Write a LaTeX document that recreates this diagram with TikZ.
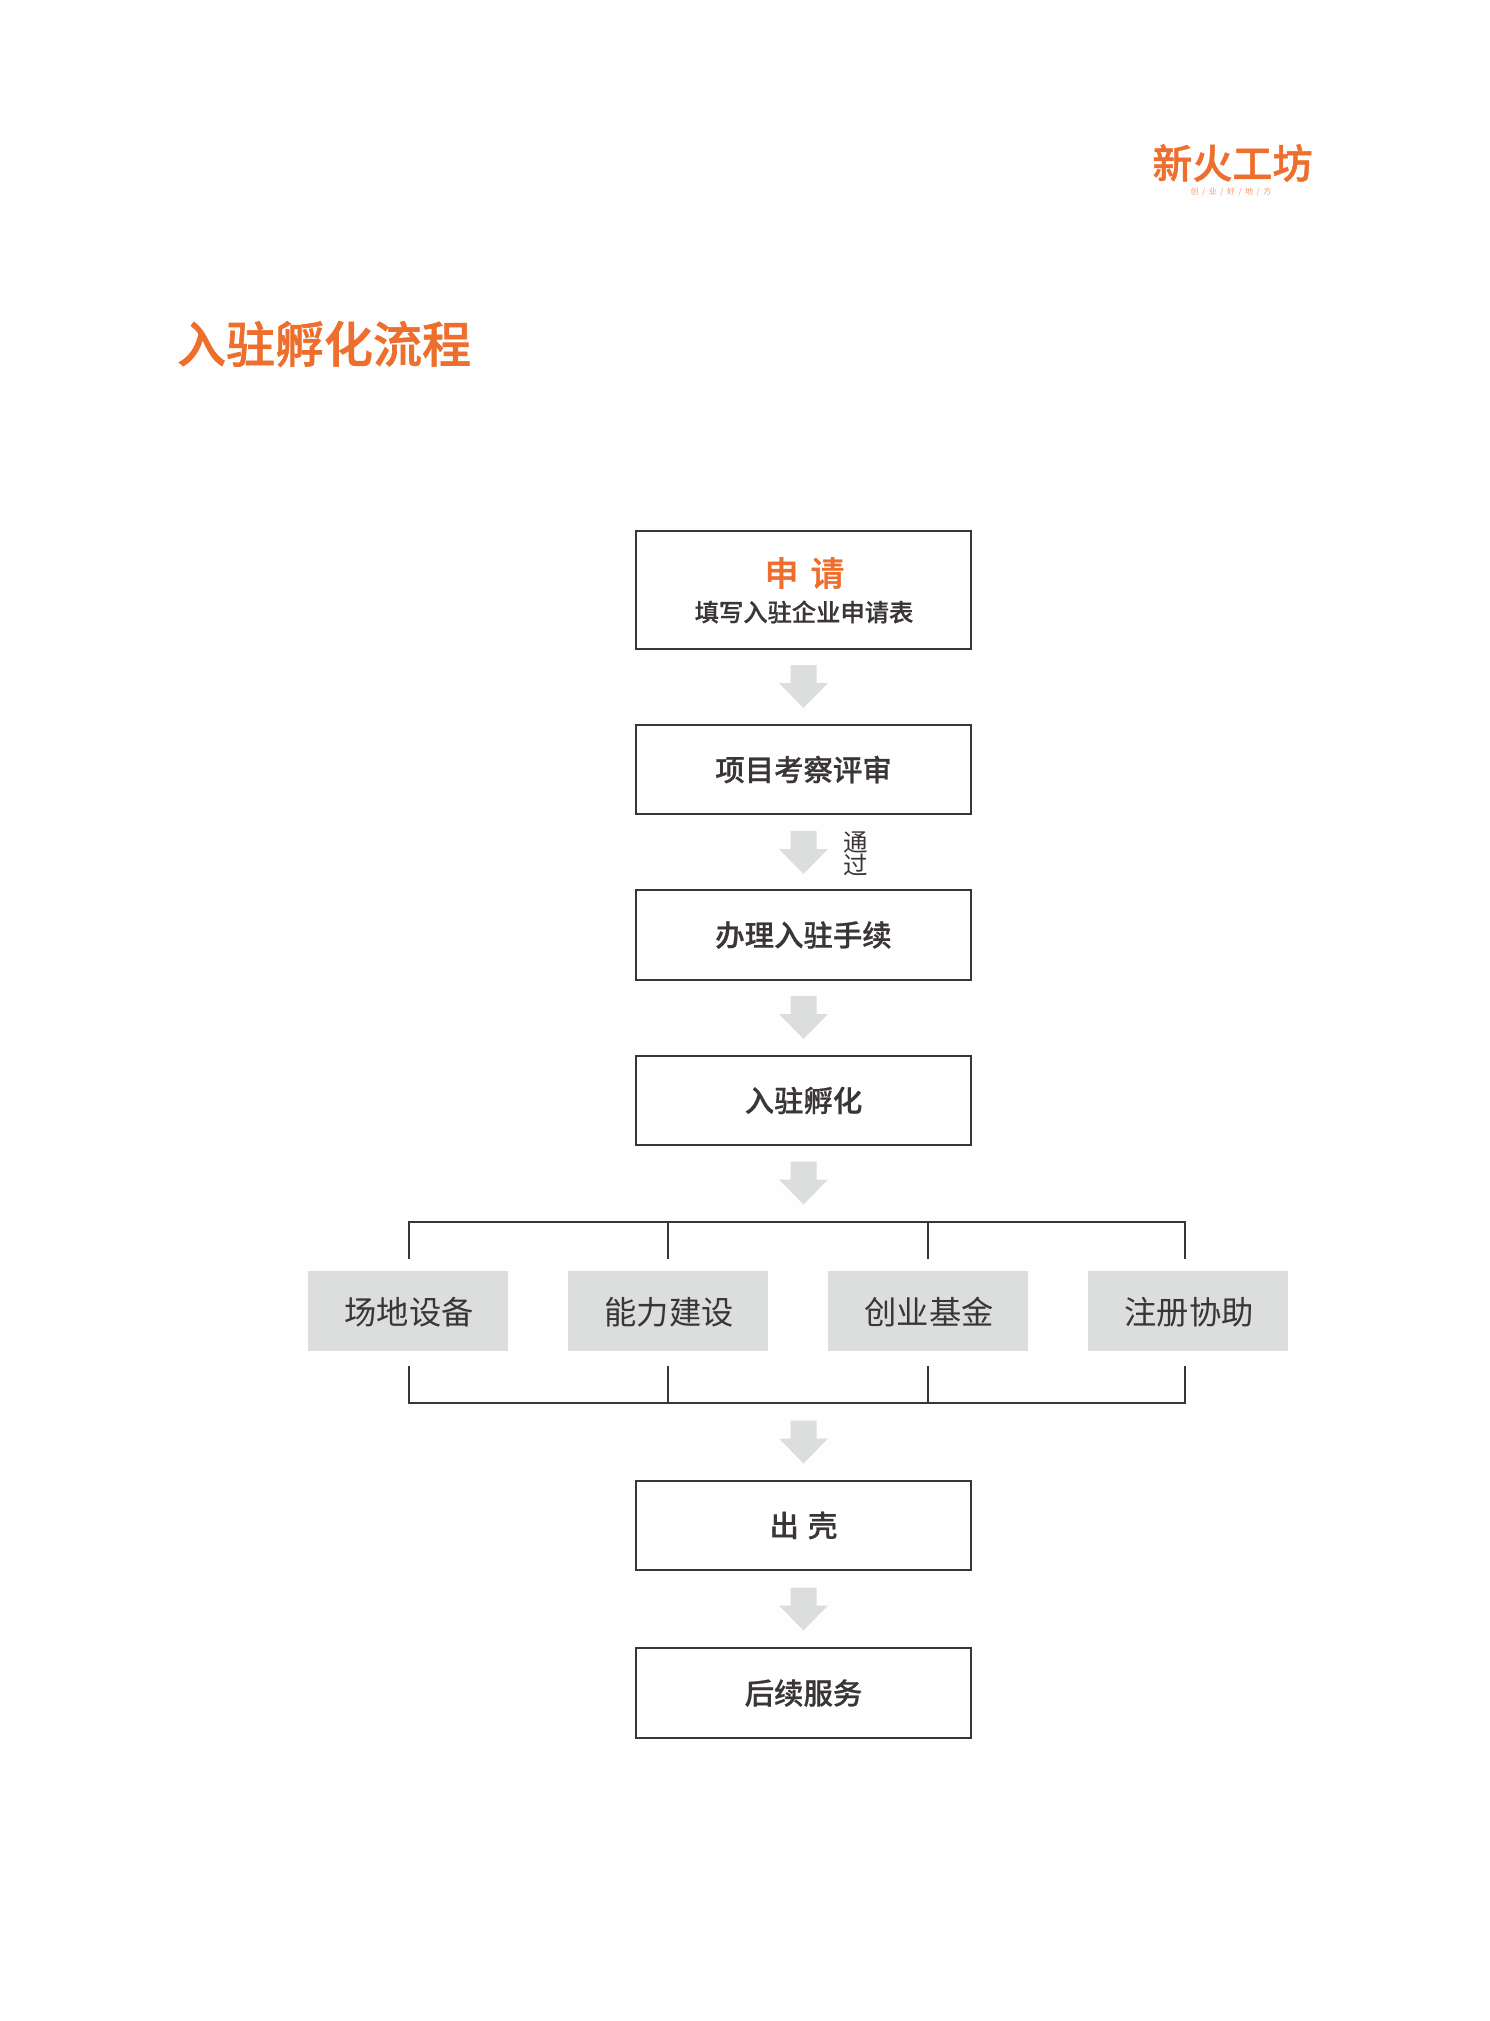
\documentclass[tikz,border=0pt]{standalone}
\usepackage{fontspec}
\setmainfont{Noto Sans CJK SC}
\newfontfamily\cjk{Noto Sans CJK SC}
\newfontfamily\cjkm[FakeBold=0.6]{Noto Sans CJK SC Medium}
\newfontfamily\cjkh[FakeBold=1.2]{Noto Sans CJK SC Medium}
\definecolor{pageg}{HTML}{FEFEFE}
\definecolor{orng}{HTML}{EE6F2D}
\definecolor{ink}{HTML}{3A3536}
\definecolor{lgray}{HTML}{DCDDDD}
\newcommand{\fsz}[1]{\fontsize{#1pt}{#1pt}\selectfont}
\newcommand{\grayarrow}[2]{%
  \fill[arrowfill] (#1-13,#2) -- (#1+13,#2) -- (#1+13,#2+18) -- (#1+24.5,#2+18)
    -- (#1,#2+43) -- (#1-24.5,#2+18) -- (#1-13,#2+18) -- cycle;}
\tikzset{
  x=1pt,y=-1pt,
  stepbox/.style={draw=ink,line width=2.6pt,fill=white,minimum width=335pt,inner sep=0pt,
    text=ink,font=\cjkm\fsz{29.4}},
  graybox/.style={fill=lgray,minimum width=200pt,minimum height=80pt,inner sep=0pt,
    text depth=0pt,text=ink,font=\cjk\fsz{32.3}},
  bus/.style={draw=ink,line width=2.3pt,line cap=butt},
  arrowfill/.style={fill=lgray},
  plain/.style={inner sep=0pt,text=ink},
}
\begin{document}
\begin{tikzpicture}
\useasboundingbox (0,0) rectangle (1489,2021);
\fill[pageg] (0,0) rectangle (1489,2021);

% logo
\node[plain,text=orng,font=\cjkh\fsz{40}] (logo) at (1232.5,163) {新火工坊};
\node[plain,text=orng!70,font=\cjk\fsz{8}] (slogan) at (1231,192) {创\hspace{3.5pt}/\hspace{3.5pt}业\hspace{3.5pt}/\hspace{3.5pt}好\hspace{3.5pt}/\hspace{3.5pt}地\hspace{3.5pt}/\hspace{3.5pt}方};

% title
\node[plain,text=orng,font=\cjkh\fsz{49}] (title) at (324,344) {入驻孵化流程};

% process boxes
\node[stepbox,minimum height=118pt] (apply) at (803.5,590) {};
\node[plain,text=orng,font=\cjkh\fsz{34}] (applyt) at (804.5,573) {申\hspace{12pt}请};
\node[plain,font=\cjkm\fsz{24.3}] (applys) at (804,612) {填写入驻企业申请表};
\node[stepbox,minimum height=89pt] (review) at (803.5,769.5) {项目考察评审};
\node[stepbox,minimum height=90pt] (settle) at (803.5,935) {办理入驻手续};
\node[stepbox,minimum height=89pt] (incub) at (803.5,1100.5) {入驻孵化};
\node[stepbox,minimum height=89pt] (exit) at (803.5,1525.5) {出\hspace{9pt}壳};
\node[stepbox,minimum height=90pt] (after) at (803.5,1693) {后续服务};

% service boxes
\node[graybox] (s1) at (408,1311) {\hspace{2pt}场地设备};
\node[graybox] (s2) at (668,1311) {\hspace{2pt}能力建设};
\node[graybox] (s3) at (928,1311) {\hspace{2pt}创业基金};
\node[graybox] (s4) at (1188,1311) {\hspace{2pt}注册协助};

% gray arrows
\grayarrow{803.5}{665}
\grayarrow{803.5}{831}
\grayarrow{803.5}{996}
\grayarrow{803.5}{1161.5}
\grayarrow{803.5}{1420.5}
\grayarrow{803.5}{1587.5}

% passed label
\node[plain,font=\cjk\fsz{24.5}] (pass1) at (856,842) {通};
\node[plain,font=\cjk\fsz{24.5}] (pass2) at (856,865) {过};

% top bus
\coordinate (ta) at (409,1222);
\coordinate (tb) at (668,1222);
\coordinate (tc) at (928,1222);
\coordinate (td) at (1185,1222);
\coordinate (ua) at (409,1259);
\coordinate (ub) at (668,1259);
\coordinate (uc) at (928,1259);
\coordinate (ud) at (1185,1259);
\draw[bus,line join=miter] (ua) -- (ta) -- (td) -- (ud);
\draw[bus] (tb) -- (ub);
\draw[bus] (tc) -- (uc);

% bottom bus
\coordinate (ba) at (409,1403);
\coordinate (bb) at (668,1403);
\coordinate (bc) at (928,1403);
\coordinate (bd) at (1185,1403);
\coordinate (va) at (409,1366);
\coordinate (vb) at (668,1366);
\coordinate (vc) at (928,1366);
\coordinate (vd) at (1185,1366);
\draw[bus,line join=miter] (va) -- (ba) -- (bd) -- (vd);
\draw[bus] (vb) -- (bb);
\draw[bus] (vc) -- (bc);
\end{tikzpicture}
\end{document}
